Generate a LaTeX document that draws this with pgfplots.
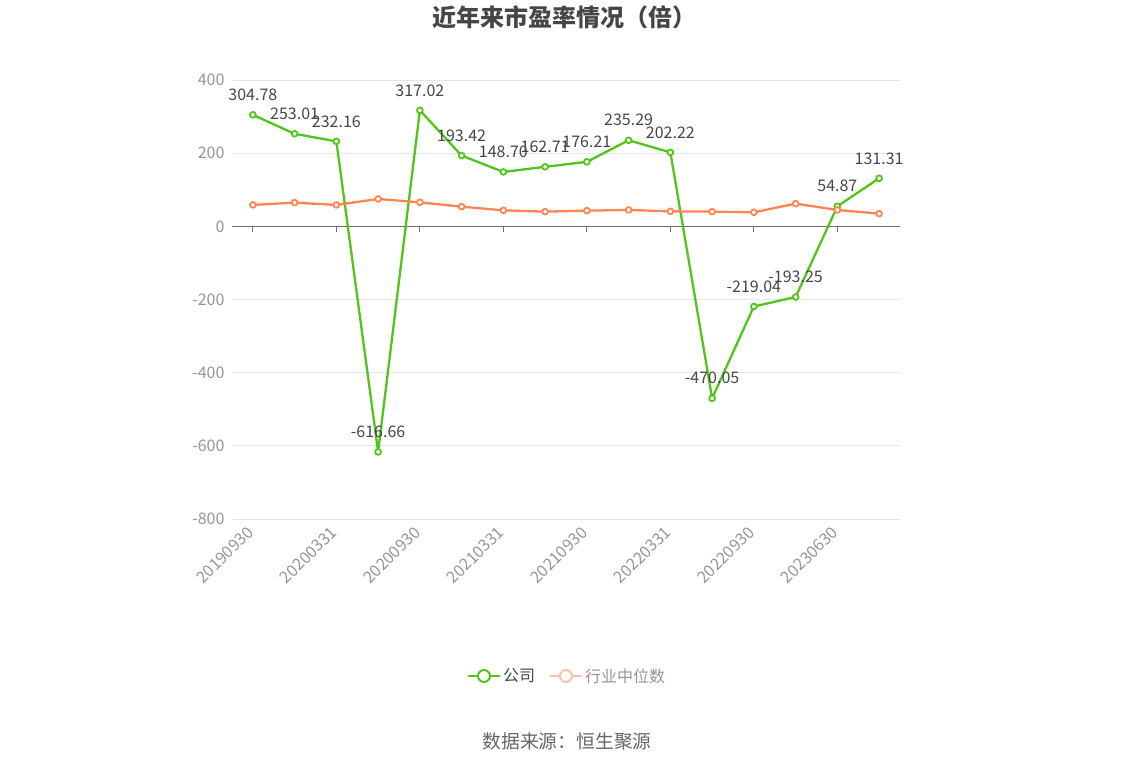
\documentclass[border=0pt]{standalone}
\usepackage{pgfplots}
\pgfplotsset{compat=1.18}
\usepackage{pgfplotstable}
\usepackage{fontspec}
\setmainfont{Noto Sans CJK SC}
\definecolor{cgreen}{RGB}{82,196,26}
\definecolor{corange}{RGB}{255,133,82}
\definecolor{clorange}{RGB}{255,192,168}
\definecolor{cgrid}{RGB}{224,230,241}
\definecolor{ctick}{RGB}{110,112,121}
\definecolor{clabel}{RGB}{150,150,150}
\definecolor{ctext}{RGB}{70,70,70}
\definecolor{csrc}{RGB}{102,102,102}

\pgfplotstableread{
x y lab
0 304.78 304.78
1 253.01 253.01
2 232.16 232.16
3 -616.66 -616.66
4 317.02 317.02
5 193.42 193.42
6 148.70 148.70
7 162.71 162.71
8 176.21 176.21
9 235.29 235.29
10 202.22 202.22
11 -470.05 -470.05
12 -219.04 -219.04
13 -193.25 -193.25
14 54.87 54.87
15 131.31 131.31
}\company

\pgfplotstableread{
x y
0 58.5
1 64.8
2 58.5
3 74.9
4 65.6
5 53.8
6 43.7
7 40.2
8 42.9
9 44.8
10 41.0
11 40.2
12 38.3
13 62.0
14 44.8
15 34.7
}\industry

\begin{document}
\begin{tikzpicture}[x=1pt,y=1pt]
\path[use as bounding box] (0,0) rectangle (1134,766);
\begin{axis}[
  at={(232pt,247pt)}, anchor=south west,
  width=668pt, height=439pt, scale only axis,
  xmin=-0.5, xmax=15.5, ymin=-800, ymax=400,
  axis lines*=left,
  axis line style={draw=none},
  major tick length=0pt,
  ytick={-800,-600,-400,-200,0,200,400},
  yticklabels={-800,-600,-400,-200,0,200,400},
  ymajorgrids,
  grid style={cgrid, line width=1pt},
  xtick={0,2,4,6,8,10,12,14},
  xticklabels={20190930,20200331,20200930,20210331,20210930,20220331,20220930,20230630},
  xticklabel style={xshift=0pt, yshift=-8pt, rotate=45, anchor=east, font=\fontsize{16.3}{16.3}\selectfont, text=clabel},
  yticklabel style={font=\fontsize{16}{16}\selectfont, text=clabel, xshift=-4pt},
  clip=false,
  legend style={at={(0.5015,-0.3576)}, anchor=center, draw=none, fill=none,
    legend columns=2, font=\fontsize{16}{16}\selectfont,
    /tikz/every even column/.append style={column sep=12pt}},
  legend image code/.code={\draw[line width=2pt] (0pt,0pt)--(32pt,0pt); \draw[line width=2pt, fill=white] (16pt,0pt) circle (6pt);},
]
\draw[ctick, line width=1.2pt] (axis cs:-0.5,0) -- (axis cs:15.5,0);
\pgfplotsinvokeforeach{0,2,4,6,8,10,12,14}{\draw[ctick, line width=1.2pt] (axis cs:#1,0) -- ([yshift=-6pt]axis cs:#1,0);}
\addplot[cgreen, line width=2.3pt, line join=round, mark=*, mark size=2.9pt,
  mark options={fill=white, draw=cgreen, line width=1.8pt},
  nodes near coords, point meta=explicit symbolic,
  every node near coord/.append style={anchor=center, yshift=20pt, text=ctext, font=\fontsize{16}{16}\selectfont},
  forget plot] table[x=x,y=y,meta=lab]{\company};
\addplot[corange, line width=2.3pt, line join=round, mark=*, mark size=2.9pt,
  mark options={fill=white, draw=corange, line width=1.8pt}, forget plot] table[x=x,y=y]{\industry};
\addlegendimage{cgreen}
\addlegendentry{\textcolor{ctext}{公司}}
\addlegendimage{clorange}
\addlegendentry{\textcolor{clabel}{行业中位数}}
\end{axis}
\node[text=ctext] at (564,749) {\fontsize{24}{24}\selectfont\bfseries 近年来市盈率情况（倍）};
\node[text=csrc] at (567,25) {\fontsize{18.8}{18.8}\selectfont 数据来源：恒生聚源};
\end{tikzpicture}
\end{document}
